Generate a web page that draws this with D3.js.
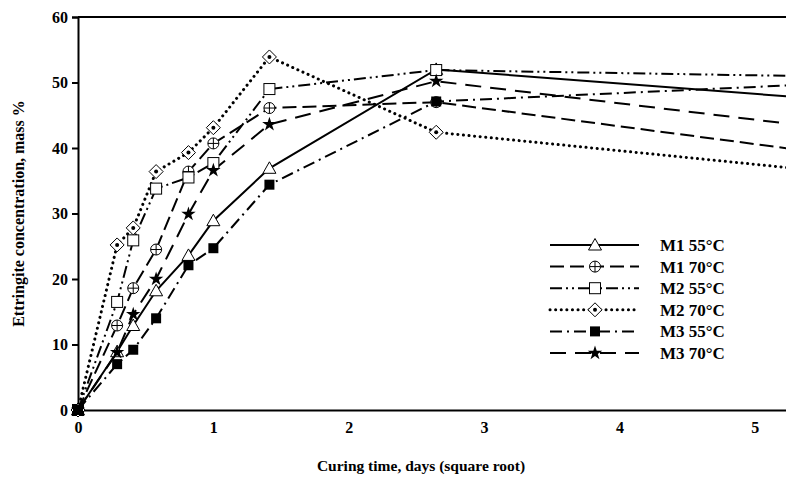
<!DOCTYPE html>
<html>
<head>
<meta charset="utf-8">
<script src="https://cdn.jsdelivr.net/npm/d3@7"></script>
<style>
  body { margin: 0; background: #fff; }
  svg { display: block; }
  text { font-family: "Liberation Serif", "Times New Roman", serif; font-weight: bold; fill: #000; }
</style>
</head>
<body>
<svg width="786" height="479"></svg>
<script>
// square root of curing time (0, 2h, 4h, 8h, 16h, 1d, 2d, 7d, 28d)
var sqrtDays = [0, 0.289, 0.408, 0.577, 0.816, 1, 1.414, 2.646, 5.292];

var m1At55 = [0, 8.9, 12.9, 18.2, 23.6, 28.9, 36.9, 52.0, 47.8];
var m1At70 = [0, 12.9, 18.6, 24.5, 36.4, 40.7, 46.1, 47.0, 39.8];
var m2At55 = [0, 16.5, 25.9, 33.8, 35.5, 37.7, 49.0, 51.9, 51.0];
var m2At70 = [0, 25.2, 27.8, 36.4, 39.3, 43.1, 53.9, 42.4, 36.9];
var m3At55 = [0, 7.0, 9.2, 14.0, 22.1, 24.7, 34.4, 47.1, 49.6];
var m3At70 = [0, 8.8, 14.6, 20.0, 29.9, 36.6, 43.6, 50.2, 43.6];

var seriesNames = ["M1 55°C", "M1 70°C", "M2 55°C", "M2 70°C", "M3 55°C", "M3 70°C"];
var xTicks = [0, 1, 2, 3, 4, 5];
var yTicks = [0, 10, 20, 30, 40, 50, 60];

var series = [
  { name: seriesNames[0], values: m1At55, dash: null, marker: "triangle", cap: "butt", w: 2 },
  { name: seriesNames[1], values: m1At70, dash: "14,6", marker: "circleplus", cap: "butt", w: 2 },
  { name: seriesNames[2], values: m2At55, dash: "12,4,2,4,2,4", marker: "square", cap: "butt", w: 2 },
  { name: seriesNames[3], values: m2At70, dash: "0.1,5.5", marker: "diamond", cap: "round", w: 3 },
  { name: seriesNames[4], values: m3At55, dash: "12,5,2,5", marker: "filledsquare", cap: "butt", w: 2 },
  { name: seriesNames[5], values: m3At70, dash: "16,9", marker: "star", cap: "butt", w: 2 }
];

const svg = d3.select("svg");
var margin = { left: 78, top: 17, right: 0, bottom: 69 };
var width = +svg.attr("width");
var height = +svg.attr("height");

var x = d3.scaleLinear().domain([0, 5.23]).range([margin.left, width - margin.right]);
var y = d3.scaleLinear().domain([0, 60]).range([height - margin.bottom, margin.top]);

svg.append("defs").append("clipPath").attr("id", "clip")
  .append("rect")
  .attr("x", 0).attr("y", 0)
  .attr("width", width - margin.right).attr("height", height);

// y axis
var yAxis = svg.append("g")
  .attr("transform", "translate(" + margin.left + ",0)")
  .call(d3.axisLeft(y).tickValues(yTicks).tickSize(6).tickPadding(4));
yAxis.select(".domain").attr("stroke", "#000").attr("stroke-width", 2);
yAxis.selectAll(".tick line").attr("stroke", "#000").attr("stroke-width", 2);
yAxis.selectAll("text").style("font-size", "16px").style("font-family", "Liberation Serif").style("font-weight", "bold");

// x axis
var xAxis = svg.append("g")
  .attr("transform", "translate(0," + y(0) + ")")
  .call(d3.axisBottom(x).tickValues(xTicks).tickSize(0).tickPadding(12).tickFormat(d3.format("d")));
xAxis.select(".domain").attr("stroke", "#000").attr("stroke-width", 2);
xAxis.selectAll("text").style("font-size", "16px").style("font-family", "Liberation Serif").style("font-weight", "bold");

// top border
svg.append("line")
  .attr("x1", margin.left).attr("x2", width)
  .attr("y1", y(60)).attr("y2", y(60))
  .attr("stroke", "#000").attr("stroke-width", 2);

// axis titles
svg.append("text")
  .attr("x", 421).attr("y", 471)
  .attr("text-anchor", "middle")
  .style("font-size", "15.5px")
  .text("Curing time, days (square root)");

svg.append("text")
  .attr("transform", "translate(24," + ((y(0) + y(60)) / 2) + ") rotate(-90)")
  .attr("text-anchor", "middle")
  .style("font-size", "16px")
  .text("Ettringite concentration, mass %");

var line = d3.line()
  .x(function (d, i) { return x(sqrtDays[i]); })
  .y(function (d) { return y(d); });

function drawMarker(g, type, cx, cy) {
  var s = 5.5;
  if (type === "triangle") {
    g.append("path")
      .attr("d", "M" + cx + "," + (cy - s - 1) + "L" + (cx + s + 1) + "," + (cy + s - 0.5) + "L" + (cx - s - 1) + "," + (cy + s - 0.5) + "Z")
      .attr("fill", "#fff").attr("stroke", "#000").attr("stroke-width", 1);
  } else if (type === "circleplus") {
    g.append("circle").attr("cx", cx).attr("cy", cy).attr("r", s)
      .attr("fill", "#fff").attr("stroke", "#000").attr("stroke-width", 1);
    g.append("path")
      .attr("d", "M" + (cx - s) + "," + cy + "H" + (cx + s) + "M" + cx + "," + (cy - s) + "V" + (cy + s))
      .attr("stroke", "#000").attr("stroke-width", 1);
  } else if (type === "square") {
    g.append("rect").attr("x", cx - s).attr("y", cy - s).attr("width", 2 * s).attr("height", 2 * s)
      .attr("fill", "#fff").attr("stroke", "#000").attr("stroke-width", 1);
  } else if (type === "diamond") {
    var d = s + 1.5;
    g.append("path")
      .attr("d", "M" + cx + "," + (cy - d) + "L" + (cx + d) + "," + cy + "L" + cx + "," + (cy + d) + "L" + (cx - d) + "," + cy + "Z")
      .attr("fill", "#fff").attr("stroke", "#000").attr("stroke-width", 1);
    g.append("circle").attr("cx", cx).attr("cy", cy).attr("r", 2).attr("fill", "#000");
  } else if (type === "filledsquare") {
    g.append("rect").attr("x", cx - s + 0.5).attr("y", cy - s + 0.5).attr("width", 2 * s - 1).attr("height", 2 * s - 1)
      .attr("fill", "#000");
  } else if (type === "star") {
    g.append("path")
      .attr("transform", "translate(" + cx + "," + cy + ")")
      .attr("d", d3.symbol().type(d3.symbolStar).size(65)())
      .attr("fill", "#000");
  }
}

var plot = svg.append("g").attr("clip-path", "url(#clip)");

series.forEach(function (s) {
  plot.append("path")
    .datum(s.values)
    .attr("d", line)
    .attr("fill", "none")
    .attr("stroke", "#000")
    .attr("stroke-width", s.w)
    .attr("stroke-linecap", s.cap)
    .attr("stroke-dasharray", s.dash);
});

series.forEach(function (s) {
  var g = plot.append("g");
  s.values.forEach(function (v, i) {
    if (x(sqrtDays[i]) < width) drawMarker(g, s.marker, x(sqrtDays[i]), y(v));
  });
});

// legend
var legend = svg.append("g");
series.forEach(function (s, i) {
  var ly = 245 + i * 21.6;
  legend.append("line")
    .attr("x1", 550).attr("x2", 639)
    .attr("y1", ly).attr("y2", ly)
    .attr("stroke", "#000")
    .attr("stroke-width", s.w)
    .attr("stroke-linecap", s.cap)
    .attr("stroke-dasharray", s.dash);
  drawMarker(legend, s.marker, 595, ly);
  legend.append("text")
    .attr("x", 660).attr("y", ly + 6)
    .style("font-size", "17px")
    .text(s.name);
});
</script>
</body>
</html>
